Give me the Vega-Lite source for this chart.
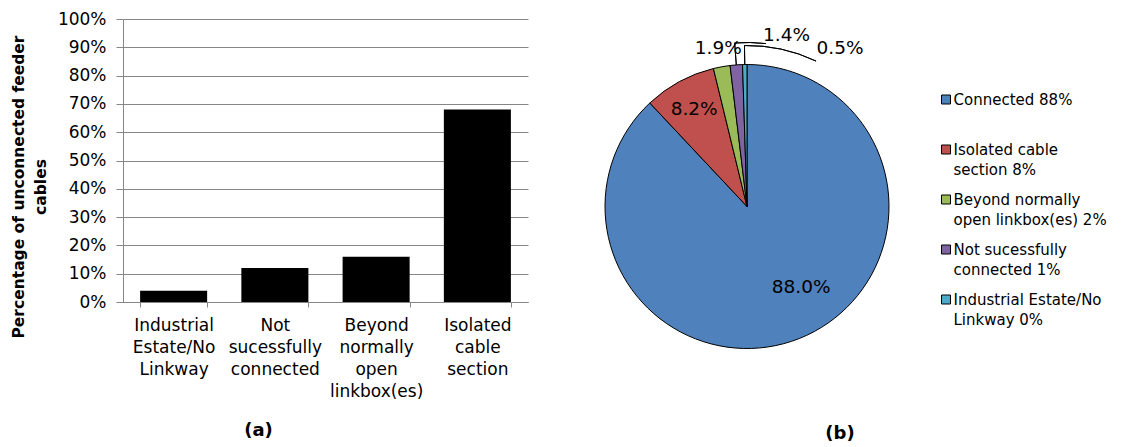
{
  "$schema": "https://vega.github.io/schema/vega-lite/v6.json",
  "background": "white",
  "padding": {"left": 11, "top": 10, "right": 0, "bottom": 0},
  "bounds": "flush",
  "spacing": 77,
  "config": {
    "view": {"stroke": null},
    "font": "DejaVu Sans"
  },
  "hconcat": [
    {
      "width": 405,
      "height": 283,
      "data": {"values": [
        {"cause": "Industrial Estate/No Linkway", "pct": 0.04},
        {"cause": "Not sucessfully connected", "pct": 0.12},
        {"cause": "Beyond normally open linkbox(es)", "pct": 0.16},
        {"cause": "Isolated cable section", "pct": 0.68}
      ]},
      "title": {"text": "(a)", "orient": "bottom", "font": "DejaVu Sans", "fontWeight": "bold", "fontSize": 18, "color": "black", "dx": -67, "offset": 23},
      "mark": {"type": "bar", "color": "black"},
      "encoding": {
        "x": {
          "field": "cause", "type": "nominal", "sort": null,
          "scale": {"paddingInner": 0.338, "paddingOuter": 0.169},
          "axis": {
            "title": null, "labelAngle": 0, "grid": false,
            "labelExpr": "datum.label === 'Industrial Estate/No Linkway' ? ['Industrial', 'Estate/No', 'Linkway'] : datum.label === 'Not sucessfully connected' ? ['Not', 'sucessfully', 'connected'] : datum.label === 'Beyond normally open linkbox(es)' ? ['Beyond', 'normally', 'open', 'linkbox(es)'] : datum.label === 'Isolated cable section' ? ['Isolated', 'cable', 'section'] : ''",
            "labelBaseline": "top", "labelLineHeight": 22, "labelFontSize": 17, "labelColor": "black",
            "labelFont": "DejaVu Sans", "labelLimit": 0, "labelPadding": 10,
            "tickSize": 5, "tickColor": "#868686", "domainColor": "#868686", "tickBand": "extent"
          }
        },
        "y": {
          "field": "pct", "type": "quantitative",
          "scale": {"domain": [0, 1], "nice": false},
          "axis": {
            "values": [0, 0.1, 0.2, 0.3, 0.4, 0.5, 0.6, 0.7, 0.8, 0.9, 1],
            "format": ".0%", "grid": true, "gridColor": "#868686", "gridWidth": 1,
            "domainColor": "#868686", "tickColor": "#868686", "tickSize": 7,
            "labelPadding": 10, "labelFontSize": 17, "labelColor": "black", "labelFont": "DejaVu Sans",
            "title": ["Percentage of unconnected feeder", "cables"],
            "titleFont": "DejaVu Sans", "titleFontWeight": "bold", "titleFontSize": 15.5, "titleColor": "black",
            "titleAngle": 270, "titleAlign": "center", "titleBaseline": "alphabetic", "titleLineHeight": 22,
            "titleX": -99.4, "titleY": 167.5
          }
        }
      }
    },
    {
      "width": 284,
      "height": 375,
      "data": {"values": [
        {"cat": "Connected", "share": 88.0, "idx": 1, "label": "88.0%"},
        {"cat": "Isolated cable section", "share": 8.2, "idx": 2, "label": "8.2%"},
        {"cat": "Beyond normally open linkbox(es)", "share": 1.9, "idx": 3, "label": "1.9%"},
        {"cat": "Not sucessfully connected", "share": 1.4, "idx": 4, "label": "1.4%"},
        {"cat": "Industrial Estate/No Linkway", "share": 0.5, "idx": 5, "label": "0.5%"}
      ]},
      "title": {"text": "(b)", "orient": "bottom", "font": "DejaVu Sans", "fontWeight": "bold", "fontSize": 18, "color": "black", "dx": 93, "offset": 28},
      "encoding": {
        "theta": {"field": "share", "type": "quantitative", "stack": true},
        "order": {"field": "idx", "type": "quantitative"},
        "detail": {"field": "cat", "type": "nominal"}
      },
      "layer": [
        {
          "mark": {"type": "arc", "outerRadius": 142, "stroke": "black", "strokeWidth": 1},
          "encoding": {
            "color": {
              "field": "cat", "type": "nominal",
              "scale": {
                "domain": ["Connected", "Isolated cable section", "Beyond normally open linkbox(es)", "Not sucessfully connected", "Industrial Estate/No Linkway"],
                "range": ["#4F81BD", "#C0504D", "#9BBB59", "#8064A2", "#4BACC6"]
              },
              "legend": {
                "orient": "none", "legendX": 815.5, "legendY": 73, "padding": 0,
                "title": null,
                "labelExpr": "datum.label === 'Connected' ? ['Connected 88%', ''] : datum.label === 'Isolated cable section' ? ['Isolated cable', 'section 8%'] : datum.label === 'Beyond normally open linkbox(es)' ? ['Beyond normally', 'open linkbox(es) 2%'] : datum.label === 'Not sucessfully connected' ? ['Not sucessfully', 'connected 1%'] : ['Industrial Estate/No', 'Linkway 0%']",
                "labelFont": "DejaVu Sans", "labelFontSize": 15, "labelColor": "black", "labelLimit": 300,
                "labelBaseline": "top", "labelOffset": 0,
                "symbolType": "square", "symbolSize": 81, "symbolStrokeColor": "black", "symbolStrokeWidth": 1, "symbolOpacity": 1,
                "rowPadding": 14,
                "encode": {"labels": {"update": {"dy": {"value": -7}, "lineHeight": {"value": 20}}}}
              }
            }
          }
        },
        {
          "mark": {"type": "arc", "innerRadius": 142, "outerRadius": 164, "padAngle": 0.6, "fillOpacity": 0, "stroke": "black", "strokeWidth": 1},
          "encoding": {"strokeOpacity": {"condition": {"test": "datum.cat === 'Not sucessfully connected'", "value": 1}, "value": 0}}
        },
        {
          "mark": {"type": "arc", "innerRadius": 142, "outerRadius": 161, "padAngle": 0.6, "fillOpacity": 0, "stroke": "black", "strokeWidth": 1},
          "encoding": {"strokeOpacity": {"condition": {"test": "datum.cat === 'Industrial Estate/No Linkway'", "value": 1}, "value": 0}}
        },
        {
          "mark": {"type": "arc", "innerRadius": 164, "outerRadius": 164, "padAngle": 0.229, "thetaOffset": 0.5163, "fillOpacity": 0, "stroke": "black", "strokeWidth": 1},
          "encoding": {"strokeOpacity": {"condition": {"test": "datum.cat === 'Isolated cable section'", "value": 1}, "value": 0}}
        },
        {
          "mark": {"type": "arc", "innerRadius": 161, "outerRadius": 161, "padAngle": 0.0397, "thetaOffset": 0.7102, "fillOpacity": 0, "stroke": "black", "strokeWidth": 1},
          "encoding": {"strokeOpacity": {"condition": {"test": "datum.cat === 'Isolated cable section'", "value": 1}, "value": 0}}
        },
        {
          "mark": {"type": "text", "radius": 97, "thetaOffset": -0.216, "fontSize": 18.5, "font": "DejaVu Sans", "color": "black"},
          "encoding": {"text": {"condition": {"test": "datum.cat === 'Connected'", "field": "label"}, "value": ""}}
        },
        {
          "mark": {"type": "text", "radius": 111, "fontSize": 18.5, "font": "DejaVu Sans", "color": "black"},
          "encoding": {"text": {"condition": {"test": "datum.cat === 'Isolated cable section'", "field": "label"}, "value": ""}}
        },
        {
          "mark": {"type": "text", "radius": 161, "fontSize": 18.5, "font": "DejaVu Sans", "color": "black"},
          "encoding": {"text": {"condition": {"test": "datum.cat === 'Beyond normally open linkbox(es)'", "field": "label"}, "value": ""}}
        },
        {
          "mark": {"type": "text", "radius": 176, "thetaOffset": 0.302, "fontSize": 18.5, "font": "DejaVu Sans", "color": "black"},
          "encoding": {"text": {"condition": {"test": "datum.cat === 'Not sucessfully connected'", "field": "label"}, "value": ""}}
        },
        {
          "mark": {"type": "text", "radius": 184, "thetaOffset": 0.546, "fontSize": 18.5, "font": "DejaVu Sans", "color": "black"},
          "encoding": {"text": {"condition": {"test": "datum.cat === 'Industrial Estate/No Linkway'", "field": "label"}, "value": ""}}
        }
      ]
    }
  ]
}
